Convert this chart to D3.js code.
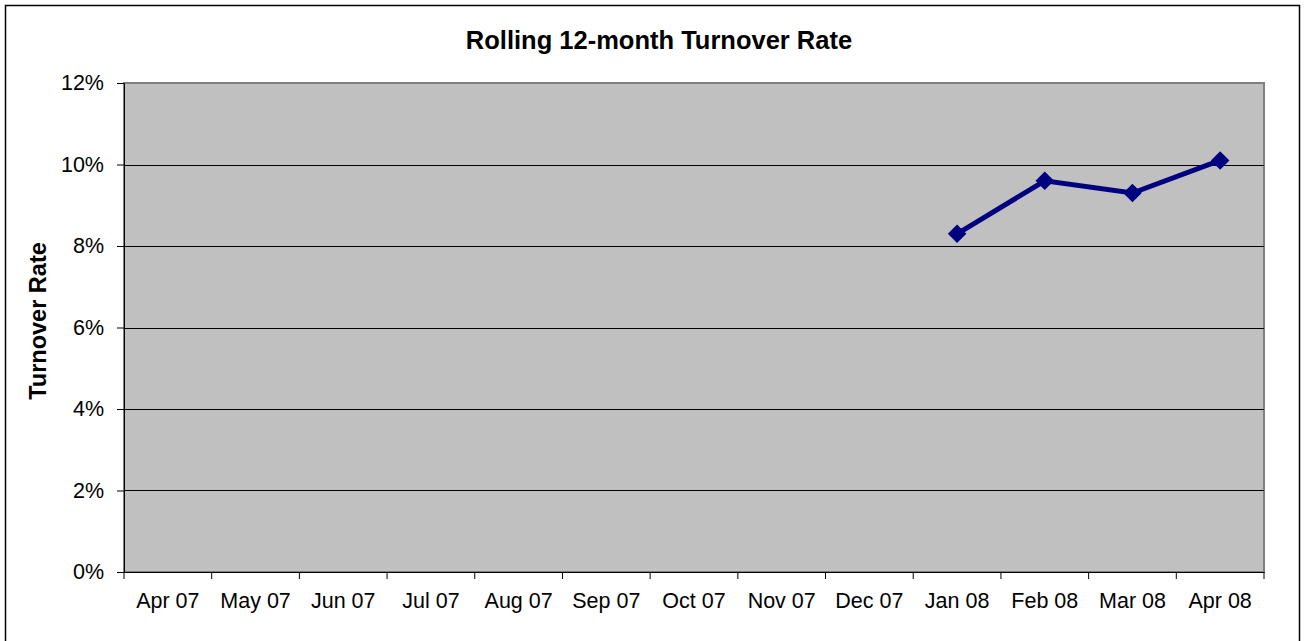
<!DOCTYPE html>
<html>
<head>
<meta charset="utf-8">
<script src="https://cdn.jsdelivr.net/npm/d3@7"></script>
<style>
  body { margin: 0; background: #fff; }
  svg text { font-family: "Liberation Sans", Arial, sans-serif; fill: #000; }
</style>
</head>
<body>
<svg id="chart" width="1306" height="641"></svg>
<script>
// 데이터
var months = ["Apr 07","May 07","Jun 07","Jul 07","Aug 07","Sep 07","Oct 07","Nov 07","Dec 07","Jan 08","Feb 08","Mar 08","Apr 08"]
var rateMonths = ["Jan 08","Feb 08","Mar 08","Apr 08"]
var rateValues = [0.083, 0.096, 0.093, 0.101]
var yTicks = [0, 0.02, 0.04, 0.06, 0.08, 0.10, 0.12]

var svg = d3.select("#chart")
var m = {left:124, right:1264, top:83, bottom:572}

// 바깥 테두리
svg.append("rect").attr("x",5.5).attr("y",5.5).attr("width",1294).attr("height",640)
   .attr("fill","#fff").attr("stroke","#000").attr("stroke-width",1.5)

var x = d3.scaleBand().domain(months).range([m.left, m.right])
var y = d3.scaleLinear().domain([0, 0.12]).range([m.bottom, m.top])

// 플롯 영역
svg.append("rect").attr("x",m.left).attr("y",m.top)
   .attr("width",m.right-m.left).attr("height",m.bottom-m.top)
   .attr("fill","#c0c0c0").attr("stroke","#808080").attr("stroke-width",2)

// 그리드
svg.append("g").selectAll("line").data(yTicks.slice(1,-1)).enter().append("line")
   .attr("x1",m.left).attr("x2",m.right)
   .attr("y1",function(d){return Math.round(y(d))+0.5}).attr("y2",function(d){return Math.round(y(d))+0.5})
   .attr("stroke","#000").attr("stroke-width",1)

// y축
var yAxis = svg.append("g").attr("transform","translate("+m.left+",0)")
   .call(d3.axisLeft(y).tickValues(yTicks).tickFormat(d3.format(".0%")).tickSize(7).tickPadding(13))
yAxis.selectAll("text").style("font-size","21.5px")
yAxis.selectAll("line,path").attr("stroke","#000")

// x축
var xAxis = svg.append("g").attr("transform","translate(0,"+m.bottom+")")
   .call(d3.axisBottom(x).tickSize(0).tickPadding(21))
xAxis.selectAll("text").style("font-size","21.5px")
xAxis.select("path").attr("stroke","#000")
// 카테고리 경계 눈금
xAxis.selectAll(".edge").data(months.concat(["end"])).enter().append("line")
   .attr("class","edge")
   .attr("x1",function(d,i){return m.left + i*x.step()}).attr("x2",function(d,i){return m.left + i*x.step()})
   .attr("y1",0).attr("y2",7).attr("stroke","#000")

// 선
var line = d3.line().x(function(d,i){return x(rateMonths[i])+x.bandwidth()/2}).y(function(d){return y(d)})
svg.append("path").datum(rateValues).attr("d",line)
   .attr("fill","none").attr("stroke","#000080").attr("stroke-width",5)

svg.append("g").selectAll("path").data(rateValues).enter().append("path")
   .attr("d",d3.symbol().type(d3.symbolDiamond2).size(220))
   .attr("transform",function(d,i){return "translate("+(x(rateMonths[i])+x.bandwidth()/2)+","+y(d)+")"})
   .attr("fill","#000080")

// 제목
svg.append("text").attr("x",659).attr("y",49).attr("text-anchor","middle")
   .style("font-size","25.5px").style("font-weight","bold").text("Rolling 12-month Turnover Rate")

svg.append("text").attr("transform","translate(46,321) rotate(-90)").attr("text-anchor","middle")
   .style("font-size","23.5px").style("font-weight","bold").text("Turnover Rate")
</script>
</body>
</html>
